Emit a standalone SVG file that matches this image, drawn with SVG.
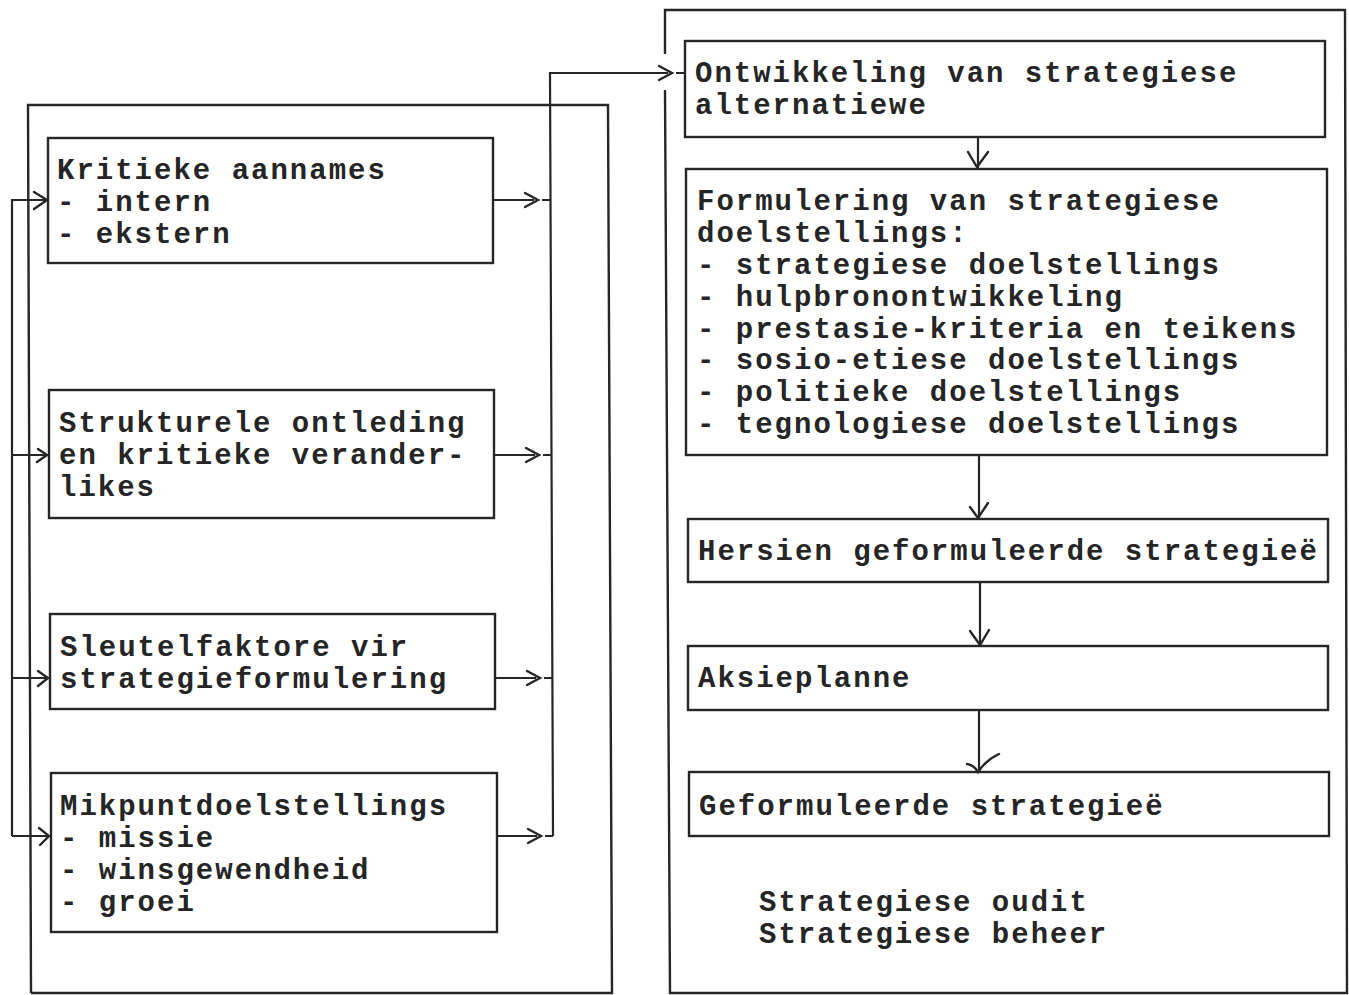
<svg xmlns="http://www.w3.org/2000/svg" width="1349" height="995" viewBox="0 0 1349 995">
  <style>
    .frame { fill: none; stroke: #262626; stroke-width: 2.4; }
    .box { fill: none; stroke: #262626; stroke-width: 2.4; }
    .wire { fill: none; stroke: #262626; stroke-width: 2.2; stroke-linejoin: miter; }
    .head { fill: none; stroke: #262626; stroke-width: 2.4; stroke-linecap: round; stroke-linejoin: miter; }
    .t { font-family: "Liberation Mono", "Courier New", monospace; font-size: 29px; font-weight: bold; letter-spacing: 2px; fill: #252525; white-space: pre; }
  </style>
  <rect width="1349" height="995" fill="#ffffff"/>

  <!-- left and right enclosing frames -->
  <g id="frames">
    <path class="frame" d="M31,993 L28,105 L608,105 L612,993 L31,993"/>
    <path class="frame" d="M665,54 L665,10 L1345,10 L1347,993 L670,993 L665,90"/>
  </g>

  <!-- left column -->
  <g id="kritieke-aannames">
    <rect class="box" x="48" y="138" width="445" height="125"/>
    <text class="t" x="57" y="179">Kritieke aannames</text>
    <text class="t" x="57" y="211">- intern</text>
    <text class="t" x="57" y="243">- ekstern</text>
  </g>
  <g id="strukturele-ontleding">
    <rect class="box" x="49" y="390" width="445" height="128"/>
    <text class="t" x="59" y="432">Strukturele ontleding</text>
    <text class="t" x="59" y="464">en kritieke verander-</text>
    <text class="t" x="59" y="496">likes</text>
  </g>
  <g id="sleutelfaktore">
    <rect class="box" x="50" y="614" width="445" height="95"/>
    <text class="t" x="60" y="656">Sleutelfaktore vir</text>
    <text class="t" x="60" y="688">strategieformulering</text>
  </g>
  <g id="mikpuntdoelstellings">
    <rect class="box" x="51" y="773" width="446" height="159"/>
    <text class="t" x="60" y="815">Mikpuntdoelstellings</text>
    <text class="t" x="60" y="847">- missie</text>
    <text class="t" x="60" y="879">- winsgewendheid</text>
    <text class="t" x="60" y="911">- groei</text>
  </g>

  <!-- right column -->
  <g id="ontwikkeling">
    <rect class="box" x="685" y="41" width="640" height="96"/>
    <text class="t" x="695" y="82">Ontwikkeling van strategiese</text>
    <text class="t" x="695" y="114">alternatiewe</text>
  </g>
  <g id="formulering">
    <rect class="box" x="686" y="169" width="641" height="286"/>
    <text class="t" x="697" y="210">Formulering van strategiese</text>
    <text class="t" x="697" y="242">doelstellings:</text>
    <text class="t" x="697" y="274">- strategiese doelstellings</text>
    <text class="t" x="697" y="306">- hulpbronontwikkeling</text>
    <text class="t" x="697" y="338">- prestasie-kriteria en teikens</text>
    <text class="t" x="697" y="369">- sosio-etiese doelstellings</text>
    <text class="t" x="697" y="401">- politieke doelstellings</text>
    <text class="t" x="697" y="433">- tegnologiese doelstellings</text>
  </g>
  <g id="hersien">
    <rect class="box" x="688" y="519" width="640" height="63"/>
    <text class="t" x="698" y="560">Hersien geformuleerde strategieë</text>
  </g>
  <g id="aksieplanne">
    <rect class="box" x="688" y="646" width="640" height="64"/>
    <text class="t" x="698" y="687">Aksieplanne</text>
  </g>
  <g id="geformuleerde">
    <rect class="box" x="689" y="772" width="640" height="64"/>
    <text class="t" x="699" y="815">Geformuleerde strategieë</text>
  </g>
  <g id="oudit-beheer">
    <text class="t" x="759" y="911">Strategiese oudit</text>
    <text class="t" x="759" y="943">Strategiese beheer</text>
  </g>

  <!-- connectors -->
  <g id="connectors">
    <!-- feedback line into the left boxes -->
    <path class="wire" d="M12,836 L12,200 L46,200 M12,455 L47,455 M12,678 L48,678 M12,836 L49,836"/>
    <path class="head" d="M34,192 L47,200 L34,209"/>
    <path class="head" d="M38,449 L47,455 L37,462"/>
    <path class="head" d="M38,671 L48,678 L38,686"/>
    <path class="head" d="M39,828 L49,836 L40,845"/>

    <!-- outputs of the left boxes into the collector -->
    <path class="wire" d="M493,200 L534,200 M542,200 L550,200"/>
    <path class="head" d="M525,193 L538,200 L525,207"/>
    <path class="wire" d="M494,455 L535,455 M543,455 L551,455"/>
    <path class="head" d="M526,448 L539,455 L526,462"/>
    <path class="wire" d="M495,678 L536,678 M544,678 L552,678"/>
    <path class="head" d="M527,671 L540,678 L527,685"/>
    <path class="wire" d="M497,836 L537,836 M545,836 L553,836"/>
    <path class="head" d="M528,829 L541,836 L528,843"/>

    <!-- collector up and across to the first right-hand box -->
    <path class="wire" d="M553,836 L550,73 L668,73 M676,73 L685,73"/>
    <path class="head" d="M659,66 L672,73 L659,80"/>

    <!-- downward flow in the right column -->
    <path class="wire" d="M978,137 L978,168"/>
    <path class="head" d="M968,152 L977,167 L988,152"/>
    <path class="wire" d="M979,455 L979,518"/>
    <path class="head" d="M970,507 L978,518 L988,503"/>
    <path class="wire" d="M980,582 L980,645"/>
    <path class="head" d="M970,631 L980,645 L989,630"/>
    <path class="wire" d="M979,710 L979,771"/>
    <path class="head" d="M967,764 Q974,765 978,772 Q986,760 999,754"/>
  </g>
</svg>
